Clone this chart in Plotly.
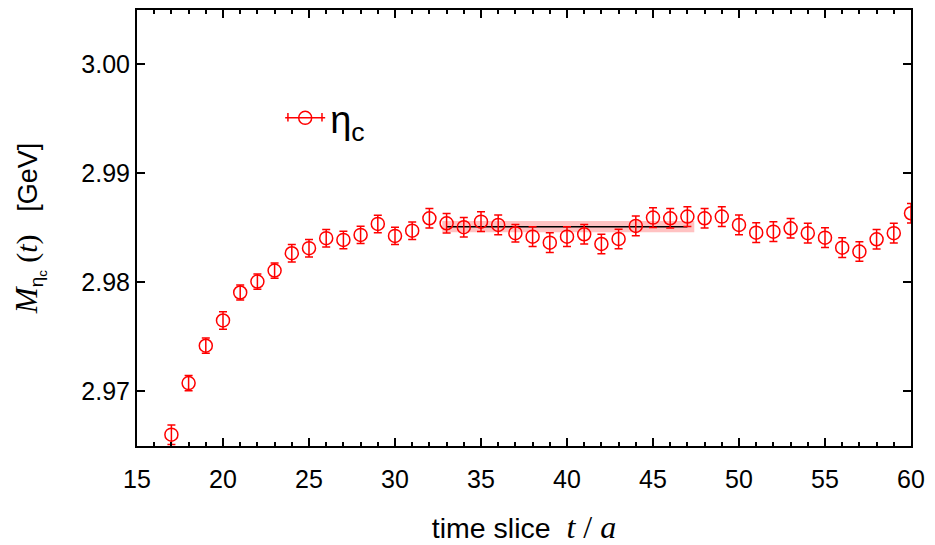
import plotly.graph_objects as go

t_slice = list(range(17, 61))
mass = [2.96599, 2.97073, 2.97416, 2.97648, 2.97905, 2.98006, 2.98107, 2.98266,
        2.98312, 2.98404, 2.98388, 2.98434, 2.98535, 2.98425, 2.98473, 2.98587,
        2.98541, 2.98505, 2.98556, 2.98526, 2.98450, 2.98418, 2.98363, 2.98418,
        2.98440, 2.98351, 2.98397, 2.98517, 2.98593, 2.98587, 2.98602, 2.98587,
        2.98602, 2.98526, 2.98455, 2.98464, 2.98495, 2.98450, 2.98409, 2.98317,
        2.98281, 2.98394, 2.98450, 2.98633]
mass_err = [0.0009, 0.0007, 0.0007, 0.0008, 0.0007, 0.0007, 0.0007, 0.0008,
            0.0008, 0.0008, 0.0008, 0.0008, 0.0008, 0.0008, 0.0008, 0.0009,
            0.0009, 0.0009, 0.0009, 0.0009, 0.0008, 0.0009, 0.0009, 0.0009,
            0.0009, 0.0009, 0.0009, 0.0009, 0.0009, 0.0009, 0.0009, 0.0009,
            0.0009, 0.0009, 0.0009, 0.0009, 0.0009, 0.0009, 0.0009, 0.0009,
            0.0009, 0.0009, 0.0009, 0.0009]

fit_t = [33, 47]
band_t = [32.75, 47.4]
fit_value = 2.98510
fit_error = 0.00052

x_ticks = [15, 20, 25, 30, 35, 40, 45, 50, 55, 60]
y_ticks = [2.97, 2.98, 2.99, 3.00]
y_tick_text = ["2.97", "2.98", "2.99", "3.00"]

RED = "#ff0000"
SERIF = "Liberation Serif"
SANS = "Liberation Sans"

fig = go.Figure()

# fit band
fig.add_trace(go.Scatter(
    x=[band_t[0], band_t[1], band_t[1], band_t[0], band_t[0]],
    y=[fit_value - fit_error, fit_value - fit_error, fit_value + fit_error,
       fit_value + fit_error, fit_value - fit_error],
    fill="toself", fillcolor="rgba(255,120,120,0.45)", mode="lines",
    line=dict(width=0), showlegend=False, hoverinfo="skip"))
# fit line
fig.add_trace(go.Scatter(
    x=fit_t, y=[fit_value, fit_value], mode="lines",
    line=dict(color="black", width=1.5), showlegend=False, hoverinfo="skip"))

# data
fig.add_trace(go.Scatter(
    x=t_slice, y=mass, mode="markers",
    marker=dict(symbol="circle-open", size=13, color=RED, line=dict(width=1.5, color=RED)),
    error_y=dict(type="data", array=mass_err, visible=True, color=RED, thickness=1.5, width=4),
    showlegend=False))

# legend entry
fig.add_trace(go.Scatter(
    x=[None], y=[None], mode="lines+markers", name="η<sub>c</sub>",
    line=dict(color=RED, width=1.5),
    marker=dict(symbol="circle-open", size=13, color=RED, line=dict(width=1.5, color=RED)),
    showlegend=True))

# caps on the legend's error-bar sample
for cx in (0.195, 0.239):
    fig.add_shape(type="line", xref="paper", yref="paper",
                  x0=cx, x1=cx, y0=0.754 - 0.0095, y1=0.754 + 0.0095,
                  line=dict(color=RED, width=1.5))

axis_common = dict(
    showline=True, linecolor="black", linewidth=2, mirror="ticks",
    ticks="inside", tickcolor="black", tickwidth=1.5, ticklen=8,
    showgrid=False, zeroline=False, automargin=False,
    tickfont=dict(family=SANS, size=25, color="black"),
)

fig.update_xaxes(
    range=[15, 60], tickvals=x_ticks, ticklabelstandoff=10,
    minor=dict(dtick=1, ticks="inside", ticklen=4, tickcolor="black", tickwidth=1.5),
    title=dict(
        text="time slice  <span style=\"font-family:Liberation Serif;font-size:32px\"><i>t</i> / <i>a</i></span>",
        font=dict(family=SANS, size=28.5, color="black"), standoff=26),
    **axis_common)

fig.update_yaxes(
    range=[2.96495, 3.005], tickvals=y_ticks, ticktext=y_tick_text,
    title=dict(
        text="<span style=\"font-family:Liberation Serif;font-size:31px\"><i>M</i></span><sub>η<sub>c</sub></sub>"
             "<span style=\"font-family:Liberation Serif;font-size:30px\"> (<i>t</i>)</span>   [GeV]",
        font=dict(family=SANS, size=27, color="black"), standoff=36),
    **axis_common)

fig.update_layout(
    width=935, height=545,
    margin=dict(l=137, r=24, t=10, b=99),
    plot_bgcolor="white", paper_bgcolor="white",
    legend=dict(x=0.185, y=0.752, xanchor="left", yanchor="middle",
                bgcolor="rgba(0,0,0,0)", font=dict(family=SANS, size=38, color="black"),
                itemwidth=40),
    showlegend=True,
)

fig.write_html("out.html")
